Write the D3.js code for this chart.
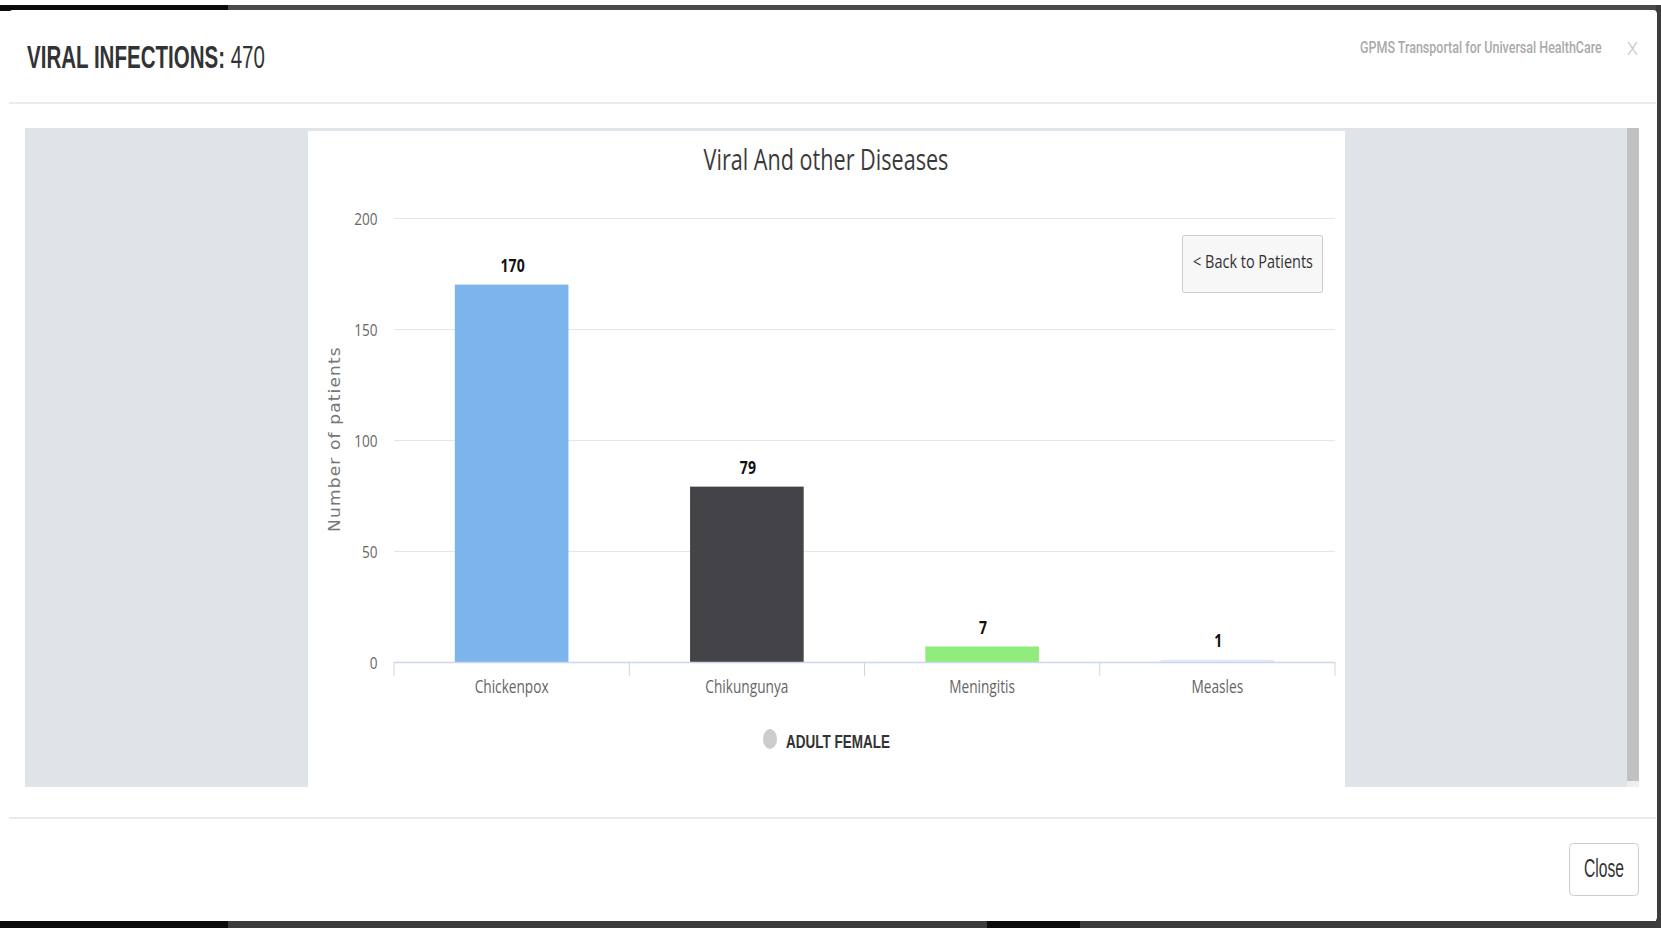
<!DOCTYPE html>
<html>
<head>
<meta charset="utf-8">
<script src="https://cdn.jsdelivr.net/npm/d3@7"></script>
<style>
  html, body { margin: 0; padding: 0; background: #ffffff; overflow: hidden; }
  svg { display: block; }
</style>
</head>
<body>
<div id="chart"></div>
<script>
// chart data
const categories = ["Chickenpox", "Chikungunya", "Meningitis", "Measles"];
const patients = [170, 79, 7, 1];
const barColors = ["#7cb5ec", "#434348", "#90ed7d", "#e3eaf4"];
const yTicks = [0, 50, 100, 150, 200];
const seriesName = ["ADULT FEMALE"];
const totalInfections = 470;

const W = 1661, H = 928;

// plot area (pixels)
const plot = { left: 394, right: 1335, top: 218, bottom: 662 };

const svg = d3.select("#chart")
    .append("svg")
    .attr("width", W)
    .attr("height", H);

// text squeezed horizontally so it takes a given width
function fitText(parent, str, x, y, width, style, anchor = "start") {
    const t = parent.append("text")
        .attr("text-anchor", anchor)
        .style("font-family", style.family)
        .style("font-size", style.size + "px")
        .style("font-weight", style.weight || "normal")
        .attr("fill", style.fill)
        .text(str);
    const len = t.node().getComputedTextLength();
    const s = width / len;
    t.attr("transform", `translate(${x},${y}) scale(${s},1)`);
    return t;
}

// ---- page frame ----
svg.append("rect").attr("x", 0).attr("y", 5).attr("width", W).attr("height", 6).attr("fill", "#4a4a4a");
svg.append("rect").attr("x", 0).attr("y", 5).attr("width", 228).attr("height", 6).attr("fill", "#0b0b0b");
svg.append("rect").attr("x", 1656).attr("y", 5).attr("width", 5).attr("height", H - 5).attr("fill", "#3c3c3c");
svg.append("rect").attr("x", 0).attr("y", 921).attr("width", W).attr("height", 7).attr("fill", "#3c3c3c");
svg.append("rect").attr("x", 0).attr("y", 921).attr("width", 228).attr("height", 7).attr("fill", "#0b0b0b");
svg.append("rect").attr("x", 987).attr("y", 921).attr("width", 93).attr("height", 7).attr("fill", "#0b0b0b");

// modal
svg.append("rect")
    .attr("x", 9).attr("y", 10)
    .attr("width", 1648).attr("height", 911)
    .attr("rx", 4)
    .attr("fill", "#ffffff");

// header
const head = svg.append("g");
const headTitle = head.append("text")
    .attr("text-anchor", "start")
    .style("font-family", "'Liberation Sans', Arial, sans-serif")
    .style("font-size", "32px")
    .attr("fill", "#333");
headTitle.append("tspan").style("font-weight", "bold").text("VIRAL INFECTIONS:");
headTitle.append("tspan").text(" " + totalInfections);
const headLen = headTitle.node().getComputedTextLength();
headTitle.attr("transform", `translate(27,68) scale(${238 / headLen},1)`);

fitText(head, "GPMS Transportal for Universal HealthCare", 1360, 53, 242,
    { family: "Roboto, sans-serif", size: 16, weight: 500, fill: "#aaaaaa" });
fitText(head, "X", 1627, 55, 11,
    { family: "Roboto, sans-serif", size: 18, weight: 300, fill: "#c4c4c4" });

svg.append("line")
    .attr("x1", 9).attr("x2", 1656)
    .attr("y1", 103).attr("y2", 103)
    .attr("stroke", "#e5e5e5").attr("stroke-width", 1.5);

// body background
svg.append("rect")
    .attr("x", 25).attr("y", 128)
    .attr("width", 1614).attr("height", 659)
    .attr("fill", "#dfe4e8");
// scrollbar
svg.append("rect")
    .attr("x", 1627).attr("y", 128)
    .attr("width", 12).attr("height", 653)
    .attr("fill", "#c1c1c1");
svg.append("rect")
    .attr("x", 1627).attr("y", 781)
    .attr("width", 12).attr("height", 6)
    .attr("fill", "#eeeeee");

// chart panel
svg.append("rect")
    .attr("x", 308).attr("y", 131)
    .attr("width", 1037).attr("height", 656)
    .attr("fill", "#ffffff");

// footer
svg.append("line")
    .attr("x1", 9).attr("x2", 1656)
    .attr("y1", 818).attr("y2", 818)
    .attr("stroke", "#e5e5e5").attr("stroke-width", 1.5);
svg.append("rect")
    .attr("x", 1569.5).attr("y", 843.5)
    .attr("width", 69).attr("height", 52)
    .attr("rx", 4)
    .attr("fill", "#ffffff")
    .attr("stroke", "#cccccc");
fitText(svg, "Close", 1604, 877, 40,
    { family: "'Liberation Sans', Arial, sans-serif", size: 25, fill: "#333" }, "middle");

// ---- chart ----
const chart = svg.append("g");

const y = d3.scaleLinear()
    .domain([0, 200])
    .range([plot.bottom, plot.top]);

const x = d3.scaleBand()
    .domain(categories)
    .range([plot.left, plot.right])
    .paddingInner(0.517)
    .paddingOuter(0.2585);

const xCell = d3.scaleBand()
    .domain(categories)
    .range([plot.left, plot.right]);

const tickFont = "'Open Sans', sans-serif";

// title
fitText(chart, "Viral And other Diseases", 826, 170, 245,
    { family: tickFont, size: 29, fill: "#3a3a3a" }, "middle");

// y axis + grid
const yAxis = chart.append("g")
    .attr("transform", `translate(${plot.left},0)`)
    .call(d3.axisLeft(y).tickValues(yTicks).tickSize(-(plot.right - plot.left)));
yAxis.select(".domain").remove();
yAxis.selectAll(".tick line").attr("stroke", "#e6e6e6");
yAxis.selectAll(".tick text")
    .attr("x", -16.5 / 0.8)
    .attr("dy", "0.36em")
    .attr("transform", "scale(0.8,1)")
    .attr("fill", "#666")
    .style("font-family", tickFont)
    .style("font-size", "17px");

// y axis title
const yTitle = chart.append("text")
    .attr("text-anchor", "middle")
    .style("font-family", "'DejaVu Sans', Verdana, sans-serif")
    .style("font-size", "15px")
    .style("letter-spacing", "1px")
    .attr("fill", "#777")
    .text("Number of patients");
const yTitleLen = yTitle.node().getComputedTextLength();
yTitle.attr("transform", `translate(340,439) rotate(-90) scale(${186 / yTitleLen},1)`);

// bars
chart.selectAll(".bar")
    .data(categories)
    .enter()
    .append("rect")
    .attr("class", "bar")
    .attr("x", d => x(d))
    .attr("width", x.bandwidth())
    .attr("y", (d, i) => y(patients[i]))
    .attr("height", (d, i) => y(0) - y(patients[i]))
    .attr("fill", (d, i) => barColors[i]);

// x axis line and ticks at category edges
chart.append("line")
    .attr("x1", plot.left).attr("x2", plot.right)
    .attr("y1", plot.bottom + 0.5).attr("y2", plot.bottom + 0.5)
    .attr("stroke", "#ccd6eb").attr("stroke-width", 1.5);

const edges = categories.map(d => xCell(d)).concat([plot.right]);
chart.selectAll(".xtick")
    .data(edges)
    .enter()
    .append("line")
    .attr("class", "xtick")
    .attr("x1", d => d).attr("x2", d => d)
    .attr("y1", plot.bottom).attr("y2", plot.bottom + 14)
    .attr("stroke", "#ccd6eb");

chart.selectAll(".xlabel")
    .data(categories)
    .enter()
    .append("text")
    .attr("class", "xlabel")
    .attr("text-anchor", "middle")
    .attr("transform", d => `translate(${xCell(d) + xCell.bandwidth() / 2},${plot.bottom + 31}) scale(0.76,1)`)
    .attr("fill", "#666")
    .style("font-family", tickFont)
    .style("font-size", "18px")
    .text(d => d);

// data labels
chart.selectAll(".dlabel")
    .data(categories)
    .enter()
    .append("text")
    .attr("class", "dlabel")
    .attr("text-anchor", "middle")
    .attr("transform", (d, i) => `translate(${x(d) + x.bandwidth() / 2 + 1},${y(patients[i]) - 12.5}) scale(0.78,1)`)
    .attr("fill", "#111")
    .style("font-family", tickFont)
    .style("font-weight", "bold")
    .style("font-size", "18px")
    .text((d, i) => patients[i]);

// back button
const btn = chart.append("g");
btn.append("rect")
    .attr("x", 1182.5).attr("y", 235.5)
    .attr("width", 140).attr("height", 57)
    .attr("rx", 2)
    .attr("fill", "#f7f7f7")
    .attr("stroke", "#cccccc");
fitText(btn, "< Back to Patients", 1253, 268, 120,
    { family: tickFont, size: 18, fill: "#333" }, "middle");

// legend
const legend = chart.append("g");
legend.selectAll("ellipse")
    .data(seriesName)
    .enter()
    .append("ellipse")
    .attr("cx", 770).attr("cy", 739)
    .attr("rx", 7).attr("ry", 10)
    .attr("fill", "#cccccc");
fitText(legend, seriesName[0], 786, 748, 104,
    { family: "'Liberation Sans', Arial, sans-serif", size: 19, weight: "bold", fill: "#333" });
</script>
</body>
</html>
